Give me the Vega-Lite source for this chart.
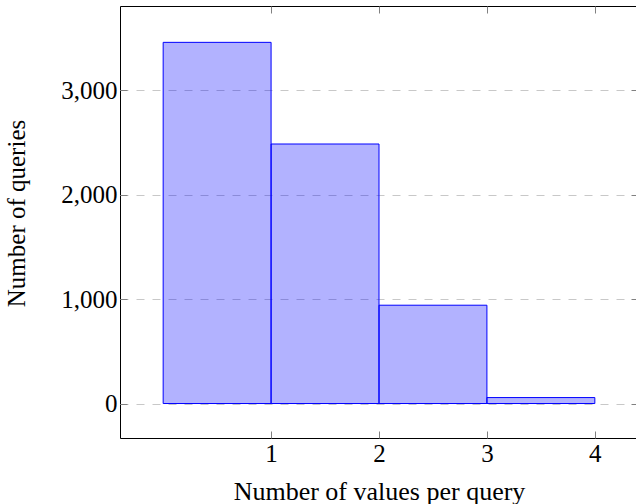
{
  "$schema": "https://vega.github.io/schema/vega-lite/v6.json",
  "width": 518,
  "height": 432,
  "autosize": "none",
  "padding": {"left": 120, "top": 6, "right": 0, "bottom": 66},
  "config": {
    "font": "Liberation Serif",
    "view": {"stroke": "black", "strokeWidth": 1},
    "axis": {
      "domain": false,
      "grid": false,
      "tickColor": "#808080",
      "tickSize": -7,
      "labelFont": "Liberation Serif",
      "labelFontSize": 25,
      "labelColor": "black",
      "titleFont": "Liberation Serif",
      "titleFontSize": 25,
      "titleFontWeight": "normal",
      "titleColor": "black"
    }
  },
  "data": {
    "values": [
      {"start": 0, "end": 1, "count": 3457},
      {"start": 1, "end": 2, "count": 2484},
      {"start": 2, "end": 3, "count": 941},
      {"start": 3, "end": 4, "count": 57}
    ]
  },
  "layer": [
    {
      "mark": {"type": "bar", "fill": "blue", "fillOpacity": 0.3, "stroke": "blue", "strokeWidth": 1},
      "encoding": {
        "x": {
          "field": "start", "type": "quantitative",
          "scale": {"domain": [-0.4, 4.4], "nice": false, "zero": false},
          "axis": {"orient": "bottom", "values": [1, 2, 3, 4], "format": "d", "labelPadding": 10, "title": "Number of values per query", "titleFontSize": 26, "titlePadding": 12}
        },
        "x2": {"field": "end"},
        "y": {
          "field": "count", "type": "quantitative",
          "scale": {"domain": [-330, 3805], "nice": false, "zero": false},
          "axis": {"orient": "left", "values": [0, 1000, 2000, 3000], "format": ",d", "grid": true, "gridDash": [8, 8], "gridColor": "#c8c8c8", "labelPadding": 10, "title": "Number of queries", "titleAngle": 270, "titleAlign": "center", "titleBaseline": "middle", "titleX": -104, "titleY": 207}
        },
        "y2": {"datum": 0}
      }
    },
    {
      "mark": {"type": "bar", "opacity": 0},
      "encoding": {
        "x": {
          "field": "start", "type": "quantitative",
          "scale": {"domain": [-0.4, 4.4], "nice": false, "zero": false},
          "axis": {"orient": "top", "values": [1, 2, 3, 4], "labels": false, "grid": false, "title": null}
        },
        "x2": {"field": "end"},
        "y": {
          "field": "count", "type": "quantitative",
          "scale": {"domain": [-330, 3805], "nice": false, "zero": false},
          "axis": {"orient": "right", "values": [0, 1000, 2000, 3000], "labels": false, "grid": false, "title": null}
        },
        "y2": {"datum": 0}
      }
    }
  ],
  "resolve": {"axis": {"x": "independent", "y": "independent"}}
}
